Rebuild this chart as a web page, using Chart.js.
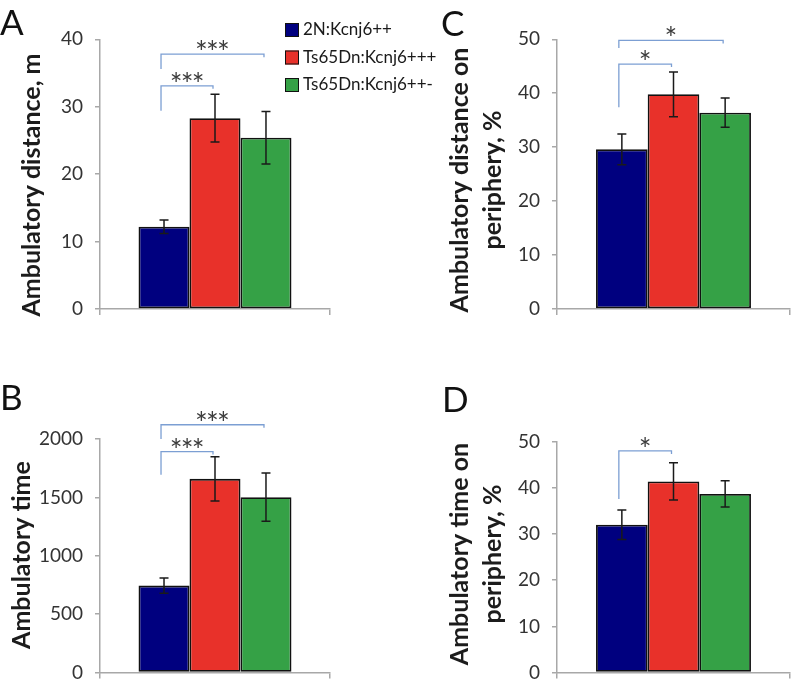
<!DOCTYPE html>
<html><head><meta charset="utf-8">
<script src="https://cdn.jsdelivr.net/npm/chart.js@4.4.1/dist/chart.umd.min.js"></script>
<style>
html,body{margin:0;padding:0;background:#fff;width:800px;height:696px;overflow:hidden}
canvas{position:absolute;left:0;top:0}
</style></head><body>
<canvas id="cA" width="800" height="696"></canvas>
<canvas id="cB" width="800" height="696"></canvas>
<canvas id="cC" width="800" height="696"></canvas>
<canvas id="cD" width="800" height="696"></canvas>
<script>
// ---- data ----
const groups = ['2N:Kcnj6++', 'Ts65Dn:Kcnj6+++', 'Ts65Dn:Kcnj6++-'];

const distMean = [12.2, 28.3, 25.4];
const distErr  = [1.0, 3.55, 3.9];
const distTicks = [0, 10, 20, 30, 40];
const distSig = [[0, 1, 33.1, 29.4, '***'], [0, 2, 37.8, 35.6, '***']];

const timeMean = [745, 1659, 1502];
const timeErr  = [65, 190, 206];
const timeTicks = [0, 500, 1000, 1500, 2000];
const timeSig = [[0, 1, 1892, 1694, '***'], [0, 2, 2122, 2000, '***']];

const distPeriMean = [29.6, 39.8, 36.4];
const distPeriErr  = [2.85, 4.15, 2.7];
const distPeriTicks = [0, 10, 20, 30, 40, 50];
const distPeriSig = [[0, 1, 45.4, 37.4, '*'], [0, 2, 49.8, 48.4, '*']];

const timePeriMean = [32.0, 41.4, 38.7];
const timePeriErr  = [3.2, 4.05, 2.85];
const timePeriTicks = [0, 10, 20, 30, 40, 50];
const timePeriSig = [[0, 1, 48.0, 37.6, '*']];

// ---- styles ----
const colors = ['#00007f', '#e8312a', '#35a146'];
const axisGray = '#a8a8a8';
const FONT = 'Lato, "Open Sans", sans-serif';

function makePanel(id, p) {
  const t = p.ticks;
  const extras = {
    id: 'extras' + id,
    afterDatasetsDraw(chart) {
      const c = chart.ctx, ys = chart.scales.y;
      c.save();
      c.strokeStyle = '#1a1a1a'; c.lineWidth = 1.5;
      chart.data.datasets.forEach((ds, i) => {
        const bar = chart.getDatasetMeta(i).data[0];
        const v = ds.data[0], e = p.err[i];
        const x = bar.x, y1 = ys.getPixelForValue(v + e), y2 = ys.getPixelForValue(v - e);
        c.beginPath();
        c.moveTo(x, y1); c.lineTo(x, y2);
        c.moveTo(x - 4.5, y1); c.lineTo(x + 4.5, y1);
        c.moveTo(x - 4.5, y2); c.lineTo(x + 4.5, y2);
        c.stroke();
      });
      c.restore();
    },
    afterDraw(chart) {
      const c = chart.ctx, ys = chart.scales.y;
      const bx = i => chart.getDatasetMeta(i).data[0].x;
      c.save();
      // significance brackets
      p.sig.forEach(([a, b, yv, low, label]) => {
        const xa = bx(a) - 3, xb = bx(b) - 2;
        const yy = ys.getPixelForValue(yv), yl = ys.getPixelForValue(low);
        c.strokeStyle = '#7c9fd3'; c.lineWidth = 1.3;
        c.beginPath();
        c.moveTo(xa, yl); c.lineTo(xa, yy); c.lineTo(xb, yy); c.lineTo(xb, yy + 3);
        c.stroke();
        c.font = '30px ' + FONT; c.fillStyle = '#3c3c3c';
        c.textAlign = 'center'; c.textBaseline = 'alphabetic';
        const m = c.measureText('*');
        const off = (m.actualBoundingBoxAscent - m.actualBoundingBoxDescent) / 2;
        const n = label.length, mid = (xa + xb) / 2;
        for (let k = 0; k < n; k++) c.fillText('*', mid + (k - (n - 1) / 2) * 11, yy - 9 + off);
      });
      // axis title
      c.fillStyle = '#1c1c1c';
      c.font = 'bold 25px ' + FONT;
      c.textAlign = 'center'; c.textBaseline = 'middle';
      p.title.forEach((line, i) => {
        c.save();
        c.translate(p.titleX[i], p.titleY);
        c.rotate(-Math.PI / 2);
        c.fillText(line, 0, 0);
        c.restore();
      });
      // panel letter
      c.font = '35px ' + FONT; c.fillStyle = '#111';
      c.textAlign = 'left'; c.textBaseline = 'alphabetic';
      c.fillText(p.letter, p.letterX, p.letterY);
      // legend
      if (p.legend) {
        c.font = '17px ' + FONT;
        c.textBaseline = 'middle';
        groups.forEach((g, i) => {
          const cy = 30 + i * 27.5;
          c.fillStyle = colors[i];
          c.fillRect(285, cy - 7, 14, 14);
          c.strokeStyle = '#111'; c.lineWidth = 1;
          c.strokeRect(285.5, cy - 6.5, 13, 13);
          c.fillStyle = '#1a1a1a';
          c.fillText(g, 303, cy);
        });
      }
      c.restore();
    }
  };
  return new Chart(document.getElementById(id), {
    type: 'bar',
    data: {
      labels: [''],
      datasets: groups.map((g, i) => ({
        label: g, data: [p.mean[i]],
        backgroundColor: colors[i], borderColor: '#111', borderWidth: 1.8,
        borderSkipped: false, categoryPercentage: 0.665, barPercentage: 1
      }))
    },
    options: {
      responsive: false, animation: false, devicePixelRatio: 1,
      layout: { padding: { left: 0, top: p.top, right: 800 - p.right, bottom: 696 - p.bottom - 6 } },
      plugins: { legend: { display: false }, tooltip: { enabled: false } },
      scales: {
        x: {
          grid: { display: true, drawOnChartArea: false, drawTicks: true, tickLength: 6, offset: true, color: axisGray, lineWidth: 1.5 },
          border: { display: true, color: axisGray, width: 1.5 },
          ticks: { display: false },
          afterFit(s) { s.height = 6; }
        },
        y: {
          min: t[0], max: t[t.length - 1],
          ticks: { stepSize: t[1] - t[0], padding: 12, color: '#333', font: { family: FONT, size: 19 },
                   callback: v => String(v) },
          grid: { display: true, drawOnChartArea: false, drawTicks: true, tickLength: 5, color: axisGray, lineWidth: 1.5 },
          border: { display: true, color: axisGray, width: 1.5 },
          afterFit(s) { s.width = p.axisX; }
        }
      }
    },
    plugins: [extras]
  });
}

makePanel('cA', { mean: distMean, err: distErr, ticks: distTicks, sig: distSig,
  axisX: 100, right: 330, top: 39.3, bottom: 309,
  title: ['Ambulatory distance, m'], titleX: [32], titleY: 185,
  letter: 'A', letterX: 0, letterY: 35, legend: true });
makePanel('cB', { mean: timeMean, err: timeErr, ticks: timeTicks, sig: timeSig,
  axisX: 100, right: 330, top: 439, bottom: 685,
  title: ['Ambulatory time'], titleX: [22], titleY: 555,
  letter: 'B', letterX: 0, letterY: 410 });
makePanel('cC', { mean: distPeriMean, err: distPeriErr, ticks: distPeriTicks, sig: distPeriSig,
  axisX: 557, right: 790, top: 39.3, bottom: 309,
  title: ['Ambulatory distance on', 'periphery, %'], titleX: [460, 493], titleY: 180,
  letter: 'C', letterX: 441, letterY: 36 });
makePanel('cD', { mean: timePeriMean, err: timePeriErr, ticks: timePeriTicks, sig: timePeriSig,
  axisX: 557, right: 790, top: 441.7, bottom: 685,
  title: ['Ambulatory time on', 'periphery, %'], titleX: [460, 493], titleY: 554,
  letter: 'D', letterX: 442, letterY: 412 });
</script>
</body></html>
